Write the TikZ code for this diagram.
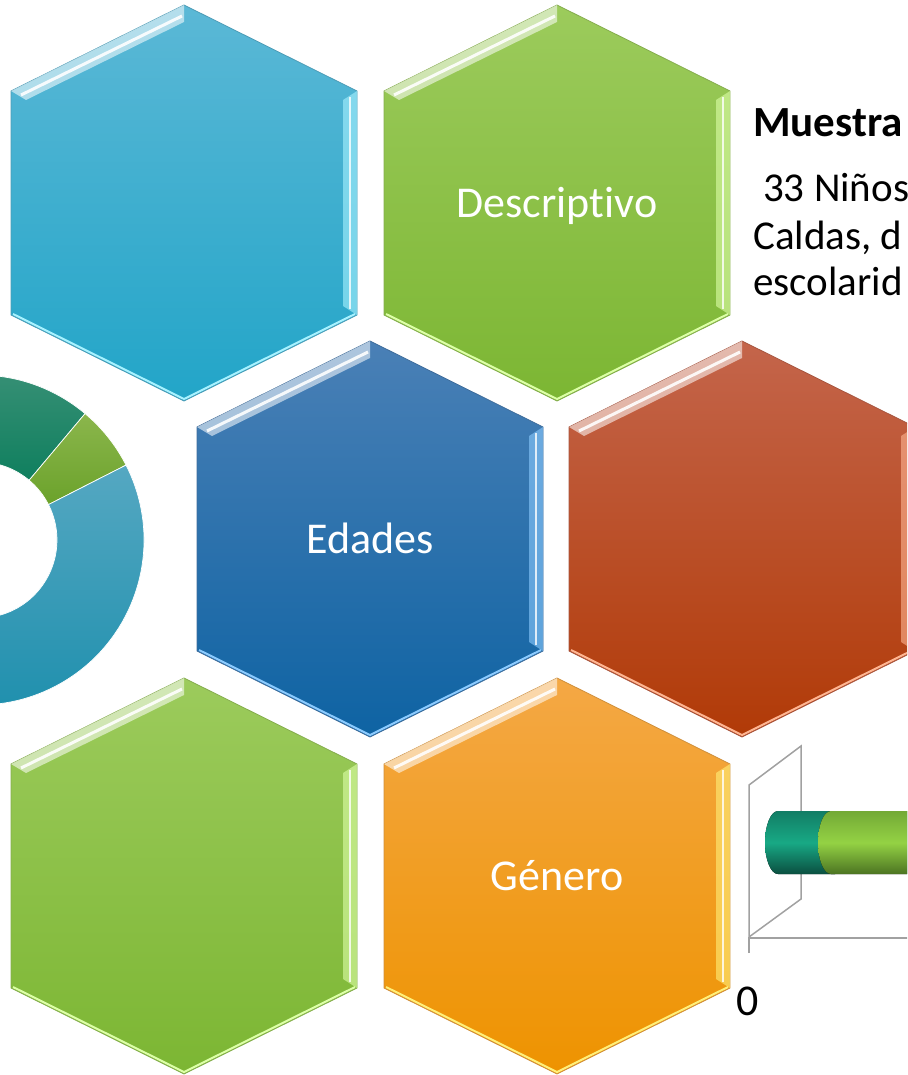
\documentclass[tikz,border=0pt]{standalone}
\usepackage{fontspec}
\setmainfont{Carlito}[Ligatures=CommonOff]
\usepackage{tikz}

\definecolor{cyanTop}{HTML}{5BB8D6}
\definecolor{cyanBot}{HTML}{22A5C8}
\definecolor{cyanLit}{HTML}{A8F2FF}
\definecolor{greenTop}{HTML}{9CCB5C}
\definecolor{greenBot}{HTML}{7CB633}
\definecolor{greenLit}{HTML}{DDFFA8}
\definecolor{blueTop}{HTML}{4A80B6}
\definecolor{blueBot}{HTML}{0E63A3}
\definecolor{blueLit}{HTML}{8CCBFF}
\definecolor{redTop}{HTML}{C4654B}
\definecolor{redBot}{HTML}{B13A07}
\definecolor{redLit}{HTML}{FFB592}
\definecolor{orangeTop}{HTML}{F4A845}
\definecolor{orangeBot}{HTML}{EE9300}
\definecolor{orangeLit}{HTML}{FFF07A}
\definecolor{ringTeal}{HTML}{55A8C2}
\definecolor{ringTealB}{HTML}{1E8FAD}
\definecolor{ringDark}{HTML}{3A9177}
\definecolor{ringDarkB}{HTML}{0F7F5E}
\definecolor{ringLime}{HTML}{8BB64C}
\definecolor{ringLimeB}{HTML}{6BA22B}
\definecolor{barTealTop}{HTML}{127D65}
\definecolor{barTealMid}{HTML}{18A985}
\definecolor{barTealBot}{HTML}{0B4F40}
\definecolor{barLimeTop}{HTML}{73A936}
\definecolor{barLimeMid}{HTML}{94D244}
\definecolor{barLimeBot}{HTML}{4C7422}

\tikzset{
  hextext/.style={text=white,inner sep=0pt,text height=29pt,text depth=0pt,font=\fontsize{44}{52}\selectfont},
  bodytext/.style={text=black,inner sep=0pt,anchor=base west,font=\fontsize{41}{47}\selectfont},
  axisline/.style={draw=black!37,line width=1.5pt}
}

\begin{document}
\begin{tikzpicture}[x=1pt,y=-1pt]
%%\draw[help lines,step=50] (0,0) grid (907,1075);
\useasboundingbox (0,0) rectangle (907,1075);
\clip (0,0) rectangle (907,1075);
% ring at the left
\coordinate (dc) at (-21,540);
\path[draw=white,line width=0.7pt,top color=ringDark,bottom color=ringDarkB] ([shift={(-125:165)}]dc) arc[start angle=-125,end angle=-50,radius=165] -- ([shift={(-50:78)}]dc) arc[start angle=-50,end angle=-125,radius=78] -- cycle;
\path[draw=white,line width=0.7pt,top color=ringLime,bottom color=ringLimeB] ([shift={(-50:165)}]dc) arc[start angle=-50,end angle=-27,radius=165] -- ([shift={(-27:78)}]dc) arc[start angle=-27,end angle=-50,radius=78] -- cycle;
\path[draw=white,line width=0.7pt,top color=ringTeal,bottom color=ringTealB] ([shift={(-27:165)}]dc) arc[start angle=-27,end angle=125,radius=165] -- ([shift={(125:78)}]dc) arc[start angle=125,end angle=-27,radius=78] -- cycle;
% hexagons
\foreach \cx/\cy/\ct/\cb/\cl in {184/203/cyanTop/cyanBot/cyanLit,557/203/greenTop/greenBot/greenLit,370/539/blueTop/blueBot/blueLit,742/539/redTop/redBot/redLit,184/876/greenTop/greenBot/greenLit,557/876/orangeTop/orangeBot/orangeLit}{
\begin{scope}[shift={(\cx,\cy)}]
\path[draw=\ct!85!black,line width=0.8pt,top color=\ct,bottom color=\cb] (0,-198)--(173,-112)--(173,112)--(0,198)--(-173,112)--(-173,-112)--cycle;
\fill[white,opacity=0.55] (-173,-112)--(0,-198)--(0,-181)--(-158,-103)--cycle;
\draw[white,opacity=0.9,line width=3pt] (-163,-108)--(-2,-187);
\fill[color=\cl,opacity=0.6] (173,-112)--(173,112)--(159,103)--(159,-103)--cycle;
\draw[white,opacity=0.8,line width=2pt] (166,-106)--(166,106);
\draw[color=\cl,line width=2pt] (-171,111)--(0,196)--(171,111);
\end{scope}
}
\node[hextext] (descriptivo) at (557,203) {Descriptivo};
\node[hextext] (edades) at (370,539) {Edades};
\node[hextext] (genero) at (557,876) {Género};
% text at the right
\node[bodytext,font=\bfseries\fontsize{43}{49}\selectfont] (muestra) at (753,137) {Muestra};
\node[bodytext] (ninos) at (763,202) {33 Niños};
\node[bodytext] (caldas) at (753,249) {Caldas, d};
\node[bodytext] (escolar) at (753,295) {escolarid};
% bar
\draw[axisline] (749,785) -- (801,746) -- (801,899) -- (749,937) -- cycle;
\draw[axisline] (749,953) -- (749,938) -- (920,938);
\fill[top color=barTealTop,bottom color=barTealBot,middle color=barTealMid] (778,811) arc[start angle=-90,end angle=-270,x radius=13,y radius=31.5] -- (835,874) -- (835,811) -- cycle;
\fill[top color=barLimeTop,bottom color=barLimeBot,middle color=barLimeMid] (831,811) arc[start angle=-90,end angle=-270,x radius=13,y radius=31.5] -- (920,874) -- (920,811) -- cycle;
\node[inner sep=0pt,anchor=base,font=\fontsize{44}{50}\selectfont] (cero) at (748,1015) {0};
\end{tikzpicture}
\end{document}
